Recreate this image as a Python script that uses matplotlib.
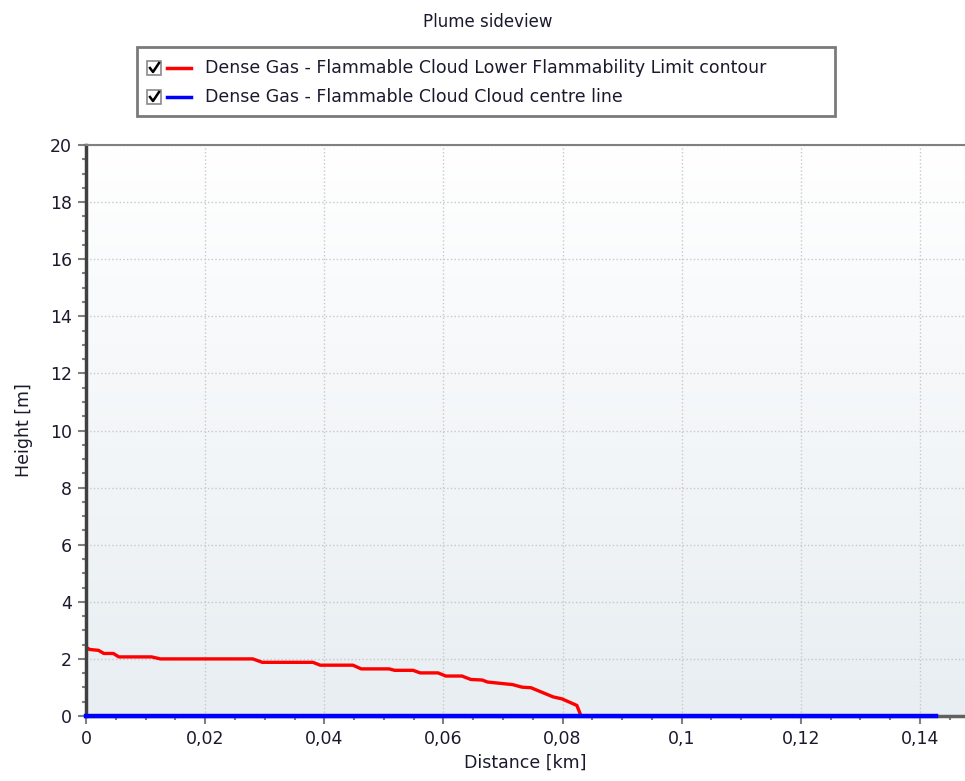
import numpy as np
import matplotlib
matplotlib.use("Agg")
import matplotlib.pyplot as plt
from matplotlib.lines import Line2D
from matplotlib.patches import Rectangle
from matplotlib.ticker import MultipleLocator, FuncFormatter

# LFL contour (distance km, height m)
lfl_x = [0.0, 0.0006, 0.0021, 0.0030, 0.0046, 0.0055, 0.0110, 0.0125, 0.0280, 0.0296,
         0.0381, 0.0393, 0.0448, 0.0462, 0.0509, 0.0518, 0.0549, 0.0561, 0.0591, 0.0604,
         0.0631, 0.0646, 0.0665, 0.0674, 0.0716, 0.0732, 0.0747, 0.0784, 0.0799, 0.0824,
         0.0831]
lfl_y = [2.41, 2.33, 2.30, 2.19, 2.19, 2.07, 2.07, 2.00, 2.00, 1.88,
         1.88, 1.78, 1.78, 1.65, 1.65, 1.60, 1.60, 1.51, 1.51, 1.40,
         1.40, 1.28, 1.26, 1.19, 1.10, 1.01, 0.99, 0.67, 0.60, 0.37,
         0.0]
# cloud centre line
centre_x = [0.0, 0.1427]
centre_y = [0.0, 0.0]

legend_labels = ["Dense Gas - Flammable Cloud Lower Flammability Limit contour",
                 "Dense Gas - Flammable Cloud Cloud centre line"]
legend_colors = ["#ff0000", "#0000ff"]

W, H = 965, 781
fig = plt.figure(figsize=(W / 100, H / 100), dpi=100)
plt.rcParams['font.family'] = ['DejaVu Sans']

def fx(px):
    return px / W

def fy(py):
    return 1 - py / H

ax = fig.add_axes([fx(86), fy(716), 1 - fx(86), fy(145) - fy(716)])

# gradient background
grad = np.linspace(1, 0, 256).reshape(-1, 1)
top = np.array([1.0, 1.0, 1.0])
bot = np.array([0xe8, 0xee, 0xf2]) / 255
img = grad[..., None] * top + (1 - grad[..., None]) * bot
ax.imshow(img, extent=[0, 1, 0, 1], transform=ax.transAxes, aspect='auto', zorder=0)

ax.plot(lfl_x, lfl_y, color=legend_colors[0], lw=2.4, zorder=3, solid_joinstyle='round')
ax.plot(centre_x, centre_y, color=legend_colors[1], lw=3.2, zorder=6, clip_on=False)

ax.set_xlim(0, 0.14 * 879 / 834)
ax.set_ylim(0, 20)
ax.xaxis.set_major_locator(MultipleLocator(0.02))
ax.xaxis.set_minor_locator(MultipleLocator(0.005))
ax.yaxis.set_major_locator(MultipleLocator(2))
ax.yaxis.set_minor_locator(MultipleLocator(0.5))

def comma_fmt(v, pos):
    s = ("%.2f" % v).rstrip('0').rstrip('.')
    return s.replace('.', ',')

ax.xaxis.set_major_formatter(FuncFormatter(comma_fmt))
ax.set_axisbelow(True)
ax.grid(True, which='major', color='#c8c8c8', ls=':', lw=1.0)

ax.tick_params(which='both', direction='out', color='#808080', labelcolor='#1a1a2e', labelsize=12.5)
ax.tick_params(which='major', length=6, width=1.5, pad=4)
ax.tick_params(which='minor', length=3, width=1.5)

ax.spines['left'].set_color('#404040')
ax.spines['left'].set_linewidth(2.5)
ax.spines['bottom'].set_color('#606060')
ax.spines['bottom'].set_linewidth(2.5)
ax.spines['top'].set_color('#808080')
ax.spines['top'].set_linewidth(1.5)
ax.spines['right'].set_visible(False)
for sp in ax.spines.values():
    sp.set_zorder(5)

ax.set_xlabel("Distance [km]", fontsize=12.5, color='#1a1a2e', labelpad=4)
ax.set_ylabel("Height [m]", fontsize=12.5, color='#1a1a2e', labelpad=12)

fig.text(fx(488), fy(22), "Plume sideview", ha='center', va='center', fontsize=12, color='#1a1a2e')

# legend box drawn by hand
fig.patches.append(Rectangle((fx(137), fy(116)), fx(835) - fx(137), fy(47) - fy(116),
                             transform=fig.transFigure, fill=False, edgecolor='#7a7a7a', lw=2))
for i, (lab, col) in enumerate(zip(legend_labels, legend_colors)):
    cy = 68 + i * 29
    fig.patches.append(Rectangle((fx(147), fy(cy + 7)), fx(14), fy(0) - fy(14),
                                 transform=fig.transFigure, facecolor='white',
                                 edgecolor='#8a8a8a', lw=1.2))
    fig.lines.append(Line2D([fx(150), fx(153), fx(159)], [fy(cy), fy(cy + 4), fy(cy - 5)],
                            transform=fig.transFigure, color='black', lw=1.8))
    fig.lines.append(Line2D([fx(167), fx(191)], [fy(cy), fy(cy)],
                            transform=fig.transFigure, color=col, lw=2.5))
    fig.text(fx(205), fy(cy), lab, ha='left', va='center', fontsize=12.5, color='#1a1a2e')

fig.savefig("out.png", dpi=100)
